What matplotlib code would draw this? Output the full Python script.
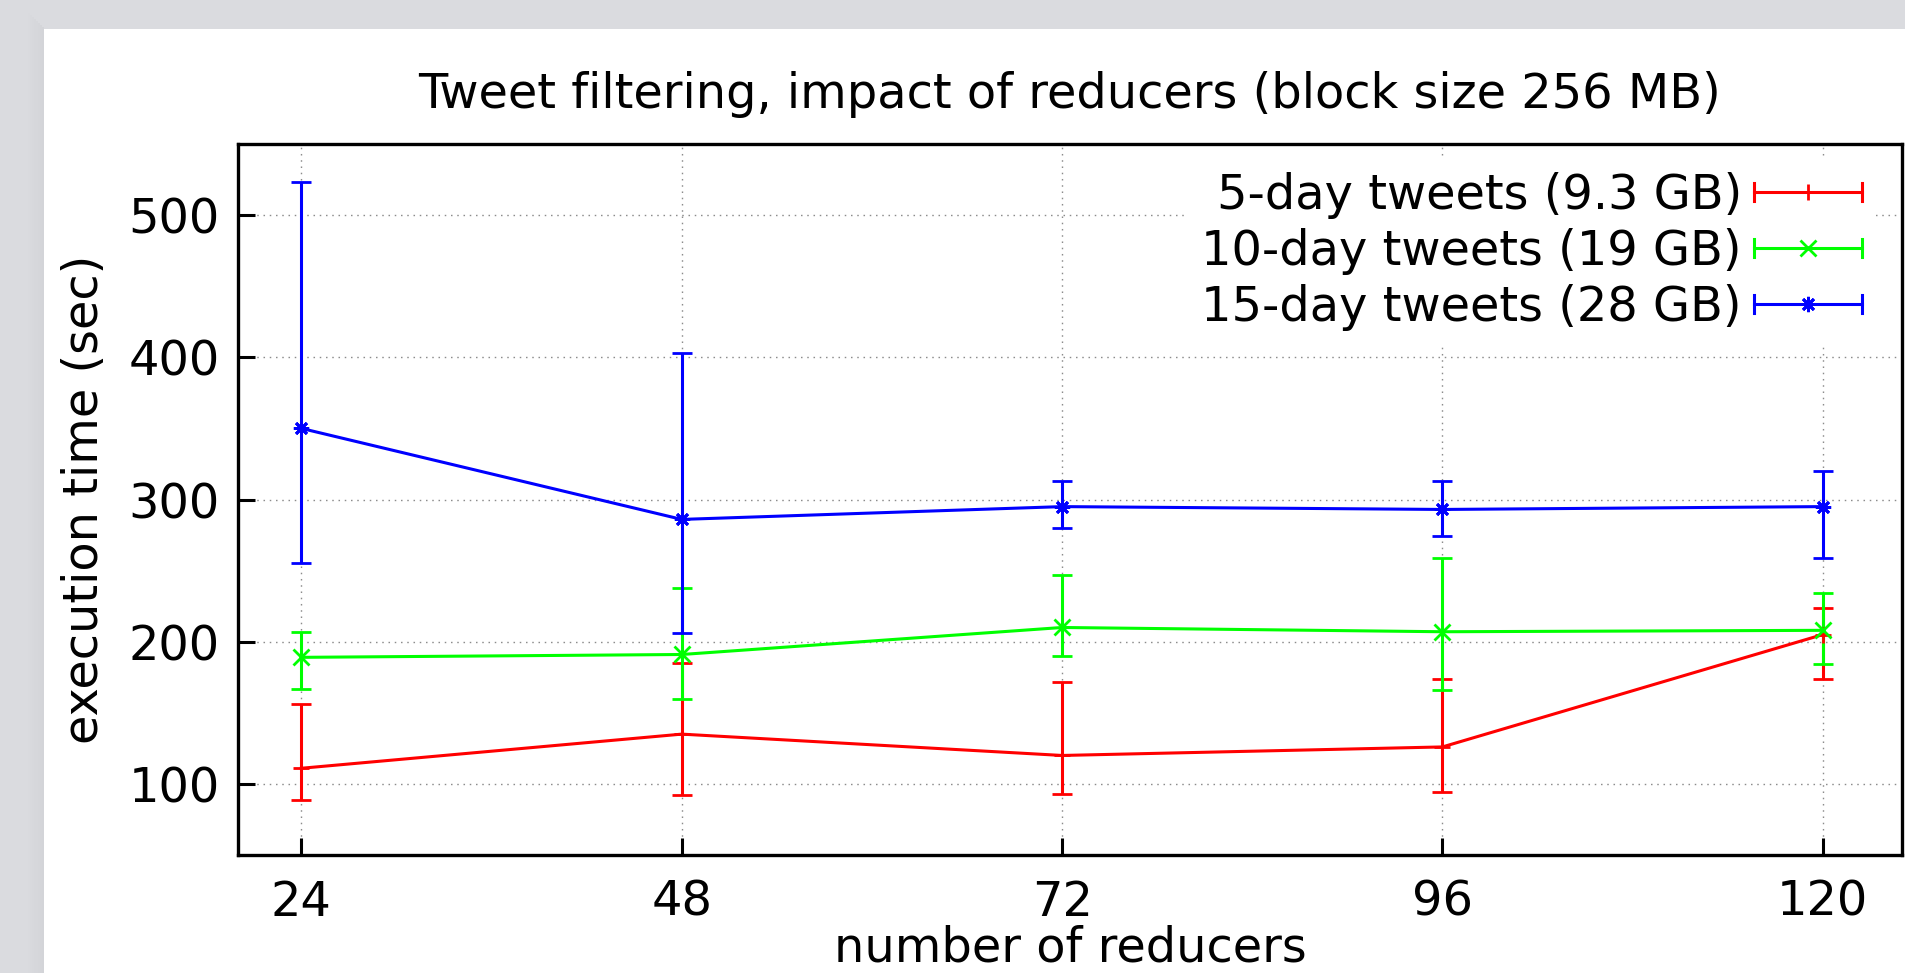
import numpy as np
import matplotlib
matplotlib.use('Agg')
import matplotlib.pyplot as plt
from matplotlib.patches import Rectangle
from matplotlib.lines import Line2D
from matplotlib.legend_handler import HandlerBase
from matplotlib.container import ErrorbarContainer

# data (execution time in sec)
reducers = [24, 48, 72, 96, 120]

t5_mean = [111, 135, 120, 126, 205]
t5_lo = [89, 92, 93, 94, 174]
t5_hi = [156, 185, 172, 174, 224]

t10_mean = [189, 191, 210, 207, 208]
t10_lo = [167, 160, 190, 166, 184]
t10_hi = [207, 238, 247, 259, 234]

t15_mean = [350, 286, 295, 293, 295]
t15_lo = [255, 206, 280, 274, 259]
t15_hi = [523, 403, 313, 313, 320]

labels = ['5-day tweets (9.3 GB)', '10-day tweets (19 GB)', '15-day tweets (28 GB)']
colors = ['#ff0000', '#00ff00', '#0000ff']
markers = ['+', 'x', (8, 2, 0)]

W, H = 1906, 973
FS = 34.5
LW = 2.2
plt.rcParams['font.family'] = ['DejaVu Sans']
plt.rcParams['font.size'] = FS


class KeySample(HandlerBase):
    # gnuplot style key sample: horizontal bar with caps and point in the middle
    def create_artists(self, legend, orig_handle, xdescent, ydescent,
                       width, height, fontsize, trans):
        line = orig_handle.lines[0]
        c = line.get_color()
        y = height / 2 - ydescent
        x0 = -xdescent
        x1 = x0 + width
        cap = 6.5
        arts = [Line2D([x0, x1], [y, y], color=c, lw=LW),
                Line2D([x0, x0], [y - cap, y + cap], color=c, lw=LW),
                Line2D([x1, x1], [y - cap, y + cap], color=c, lw=LW),
                Line2D([(x0 + x1) / 2], [y], color=c, marker=line.get_marker(),
                       ms=11, mew=2, ls='none')]
        for a in arts:
            a.set_transform(trans)
        return arts


fig = plt.figure(figsize=(W / 100, H / 100), dpi=100, facecolor='#dadbdf')

# screenshot look: white page on a grey backdrop with a soft shadow
for i in range(8):
    fig.patches.append(Rectangle(((44 - 2 * (i + 1)) / W, 0), 2 / W, 1 - (29 - 2 * (i + 1)) / H,
                                 transform=fig.transFigure, facecolor='#b8b9bd',
                                 alpha=0.18 * (8 - i) / 8, edgecolor='none', zorder=-3))
fig.patches.append(Rectangle((44 / W, 0), 1, 1 - 29 / H, transform=fig.transFigure,
                             facecolor='white', edgecolor='none', zorder=-2))

ax = fig.add_axes([238 / W, 1 - 855 / H, (1902 - 238) / W, (855 - 144) / H])
ax.set_facecolor('white')

series = [(t5_mean, t5_lo, t5_hi), (t10_mean, t10_lo, t10_hi), (t15_mean, t15_lo, t15_hi)]
for (m, lo, hi), c, mk, lab in zip(series, colors, markers, labels):
    m = np.array(m)
    err = [m - np.array(lo), np.array(hi) - m]
    ax.errorbar(reducers, m, yerr=err, color=c, marker=mk, ms=11, mew=2, lw=LW,
                elinewidth=LW, capsize=7.5, capthick=LW, label=lab, zorder=3)

ax.set_xlim(20, 125)
ax.set_ylim(50, 550)
ax.set_xticks(reducers)
ax.set_yticks([100, 200, 300, 400, 500])

ax.grid(True, color='#8c8c8c', lw=1.0, ls=(0, (1.1, 3.4)))
ax.set_axisbelow(True)
ax.tick_params(direction='in', length=12, width=2.2, top=False, right=False)
ax.tick_params(axis='x', pad=17)
ax.tick_params(axis='y', pad=13)
for s in ax.spines.values():
    s.set_linewidth(2.4)

ax.set_title('Tweet filtering, impact of reducers (block size 256 MB)', y=(855 - 108) / 711,
             va='baseline', pad=0, fontsize=FS)
ax.set_xlabel('number of reducers', va='baseline')
ax.xaxis.set_label_coords(0.5, (855 - 961.5) / 711)
ax.set_ylabel('execution time (sec)', va='center')
ax.yaxis.set_label_coords((85 - 238) / 1664, 0.5)

leg = ax.legend(loc='upper right', bbox_to_anchor=(0.9844, 0.981), markerfirst=False,
                handler_map={ErrorbarContainer: KeySample()}, handlelength=2.25,
                handletextpad=0.25, labelspacing=0.19, borderpad=0.3, borderaxespad=0,
                frameon=True, fancybox=False, framealpha=1, fontsize=FS)
leg.get_frame().set_edgecolor('none')
leg.get_frame().set_facecolor('white')

plt.savefig('out.png', dpi=100, facecolor=fig.get_facecolor())
